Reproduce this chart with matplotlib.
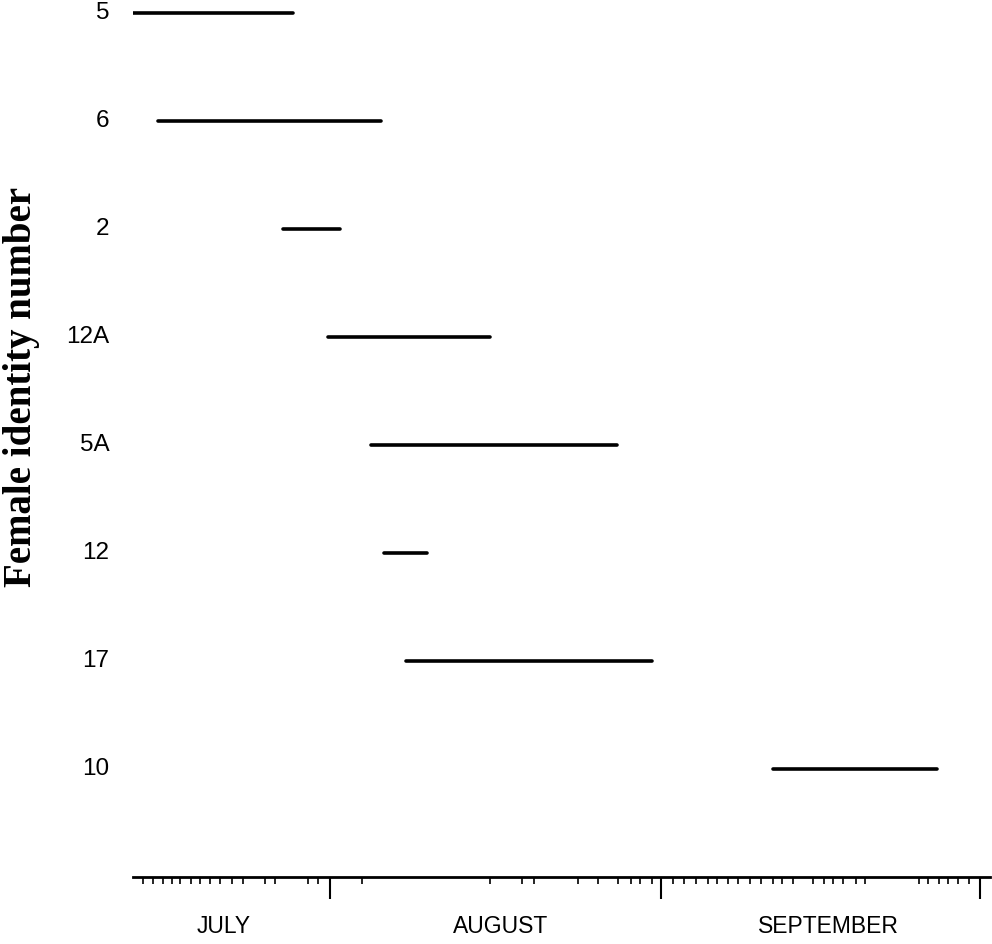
import matplotlib
matplotlib.use("Agg")
import matplotlib.pyplot as plt
from matplotlib.transforms import blended_transform_factory

# Residence periods of each female, in days counted from 1 July (1 Aug = 31, 1 Sep = 62, 1 Oct = 92)
females = ["5", "6", "2", "12A", "5A", "12", "17", "10"]
start_day = [12.5, 14.8, 26.6, 30.8, 34.8, 36.0, 38.1, 72.5]
end_day = [27.5, 35.8, 31.9, 46.0, 57.9, 40.1, 61.2, 87.9]

# Month boundaries and labels on the time axis
month_bounds = [31, 62, 92]
months = ["JULY", "AUGUST", "SEPTEMBER"]
month_label_day = [21.0, 47.0, 77.7]

# Individual day marks along the time axis
day_marks = [13.4, 14.4, 15.3, 16.2, 16.9, 17.9, 18.8, 19.7, 20.7, 21.8, 22.8,
             24.9, 25.8, 28.9, 29.9, 34.0, 46.0, 49.0, 50.1, 54.2, 56.1, 58.0,
             59.2, 60.1, 61.2, 63.2, 64.2, 65.3, 66.4, 67.3, 68.3, 69.3, 70.4,
             71.4, 72.5, 73.4, 74.4, 76.3, 77.3, 78.2, 79.1, 80.3, 81.2, 86.2,
             87.1, 88.1, 89.0, 89.9, 90.9]

fig = plt.figure(figsize=(9.92, 9.44), dpi=100)
ax = fig.add_axes([0.1341, 0.0710, 0.8639, 0.929])

rows = list(range(len(females)))
ax.hlines(rows, start_day, end_day, colors="black", linewidth=2.6, capstyle="round")

ax.set_xlim(12.5, 92.9)
ax.set_ylim(8, -0.12)

for side in ("top", "right", "left"):
    ax.spines[side].set_visible(False)
ax.spines["bottom"].set_linewidth(2.0)

ax.set_yticks(rows)
ax.set_yticklabels(females, fontsize=17.5, family="Liberation Sans")
ax.tick_params(axis="y", length=0, pad=17)
for lbl in ax.get_yticklabels():
    lbl.set_verticalalignment("center")

ax.set_xticks(month_bounds)
ax.set_xticklabels([])
ax.set_xticks(day_marks, minor=True)
ax.tick_params(axis="x", which="major", direction="out", length=16, width=1.5)
ax.tick_params(axis="x", which="minor", direction="out", length=5, width=1.2)

trans = blended_transform_factory(ax.transData, ax.transAxes)
for name, d in zip(months, month_label_day):
    ax.text(d, -0.056, name, transform=trans, ha="center", va="center",
            fontsize=16.5, family="Liberation Sans")

fig.text(0.022, 0.59, "Female identity number", rotation=90, ha="center",
         va="center", fontsize=28, fontweight="bold", family="Liberation Serif")

fig.savefig("out.png", dpi=100)
